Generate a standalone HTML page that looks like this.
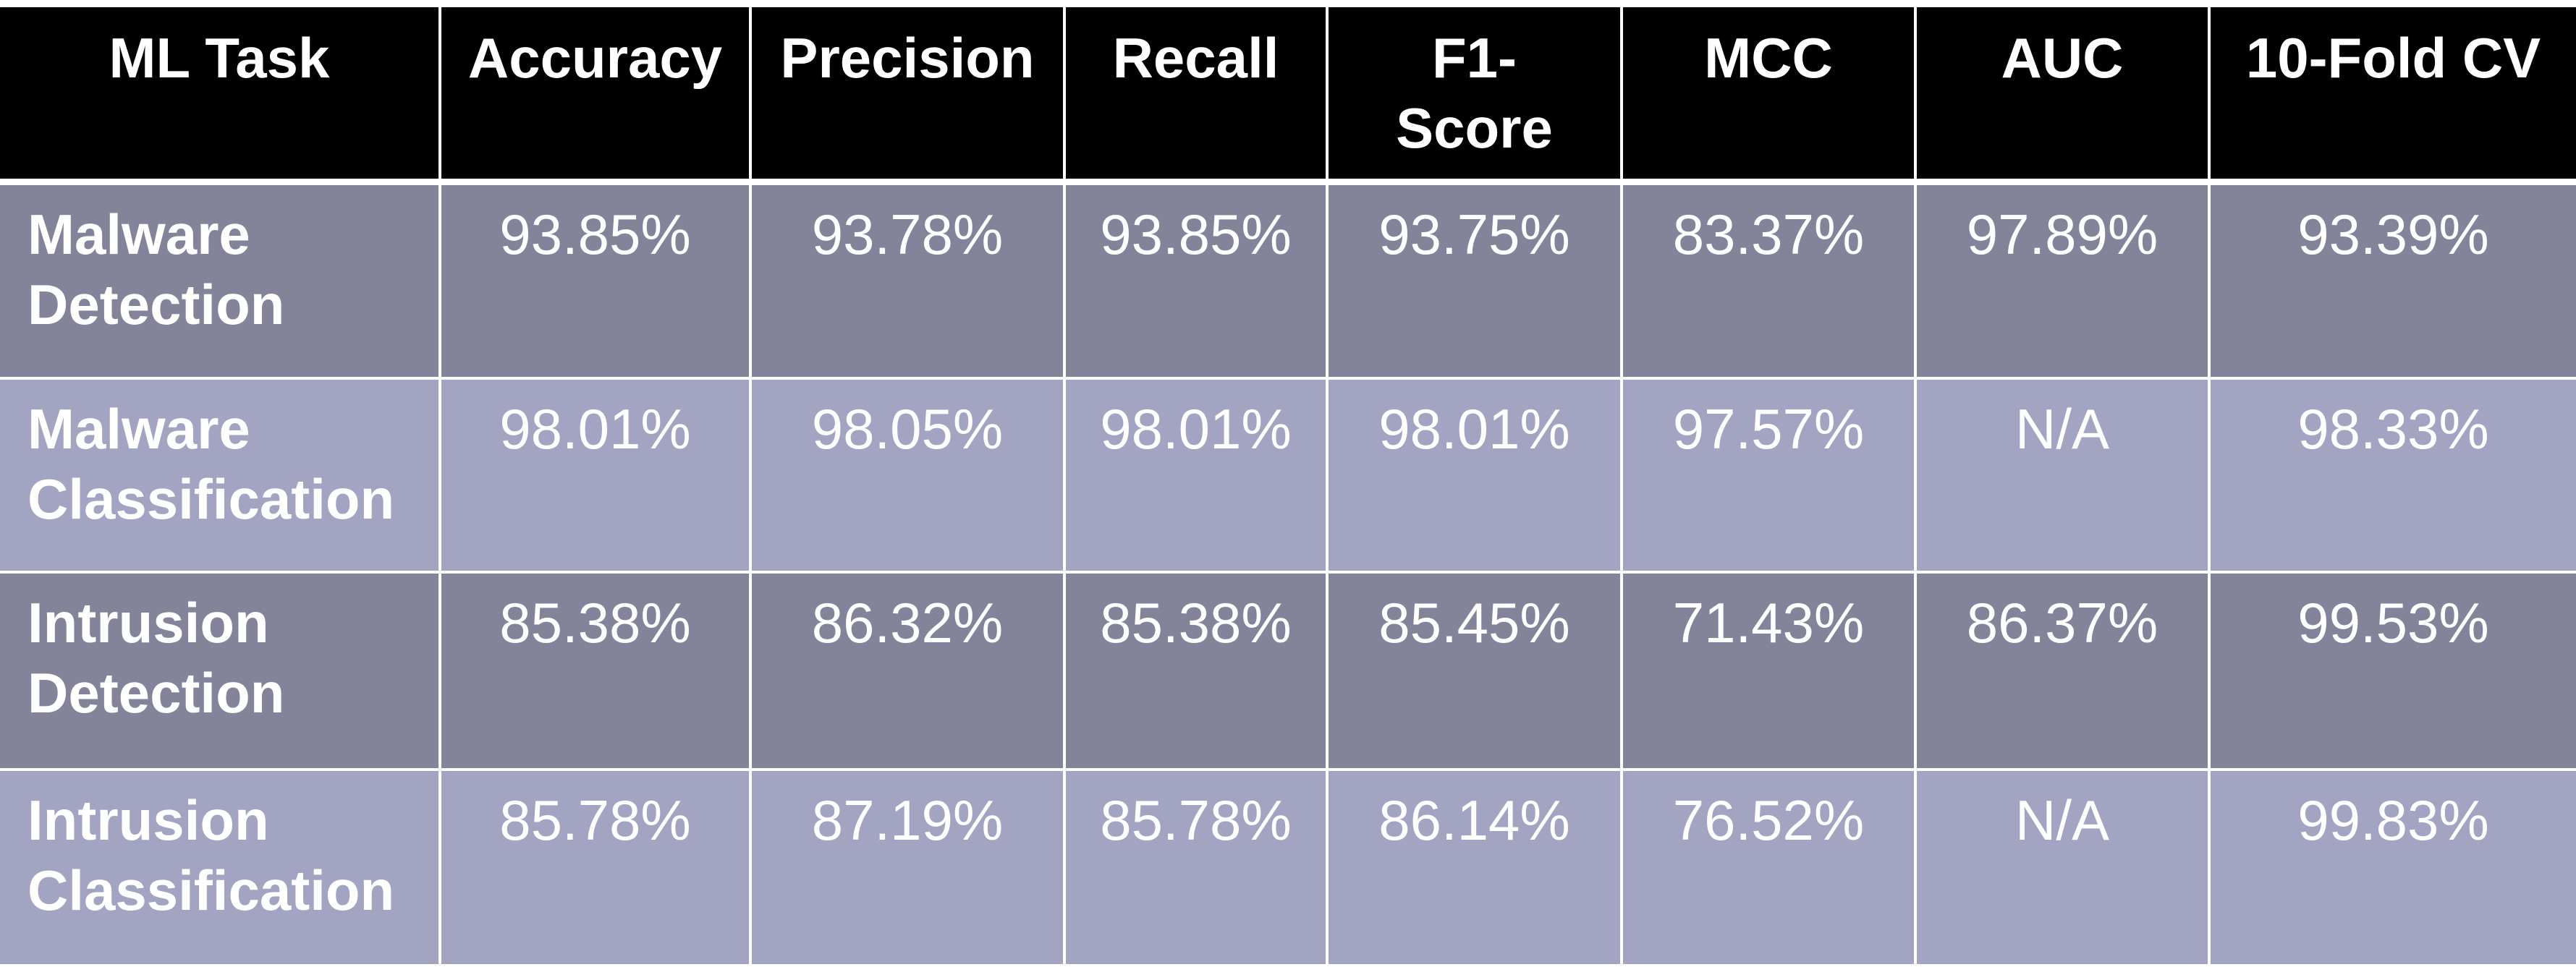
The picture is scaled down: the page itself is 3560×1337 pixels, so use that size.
<!DOCTYPE html>
<html><head><meta charset="utf-8">
<style>
body{margin:0;width:3560px;height:1337px;background:#fff;overflow:hidden;position:relative;font-family:"Liberation Sans",sans-serif;color:#fff}
.c{position:absolute;box-sizing:border-box;text-align:center;font-size:78px;line-height:97px;padding-top:20px}
.h{background:#000;font-weight:bold;padding-top:22px}
.d{background:#83839a}
.l{background:#a3a3c2}
.lab{text-align:left;padding-left:38px;font-weight:bold}
</style></head><body>
<div id="t"></div>
<script>
const cols=[[0,606],[610,1035],[1039,1469],[1473,1832],[1836,2239],[2243,2645],[2649,3051],[3055,3560]];
const rows=[[10,247],[256,521],[525,789],[793,1062],[1066,1333]];
const headers=["ML Task","Accuracy","Precision","Recall","F1-<br>Score","MCC","AUC","10-Fold CV"];
const tasks=["Malware<br>Detection","Malware<br>Classification","Intrusion<br>Detection","Intrusion<br>Classification"];
const vals=[
["93.85%","93.78%","93.85%","93.75%","83.37%","97.89%","93.39%"],
["98.01%","98.05%","98.01%","98.01%","97.57%","N/A","98.33%"],
["85.38%","86.32%","85.38%","85.45%","71.43%","86.37%","99.53%"],
["85.78%","87.19%","85.78%","86.14%","76.52%","N/A","99.83%"]];
const t=document.getElementById('t');
for(let r=0;r<5;r++){for(let c=0;c<8;c++){
 const e=document.createElement('div');
 let cls='c ';
 if(r==0)cls+='h';else cls+=(r%2?'d':'l')+(c==0?' lab':'');
 e.className=cls;
 e.style.left=cols[c][0]+'px';e.style.width=(cols[c][1]-cols[c][0])+'px';
 e.style.top=rows[r][0]+'px';e.style.height=(rows[r][1]-rows[r][0])+'px';
 e.innerHTML=r==0?headers[c]:(c==0?tasks[r-1]:vals[r-1][c-1]);
 
 
 t.appendChild(e);
}}
</script>
</body></html>
